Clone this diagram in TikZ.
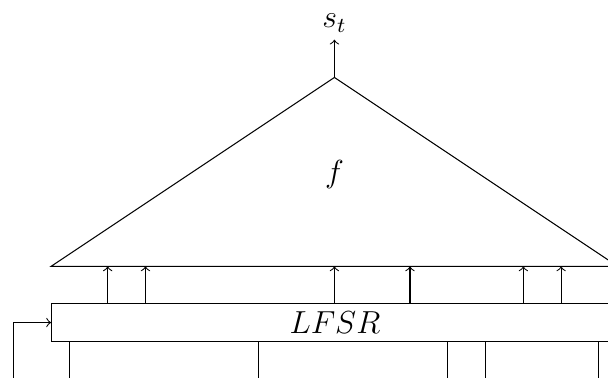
\documentclass[tikz,border=0pt]{standalone}
\begin{document}
\begin{tikzpicture}[x=0.5cm,y=0.5cm,line width=0.4pt,font=\large,
  conn/.style={->},
  regbox/.style={draw,minimum width=7.5cm,minimum height=0.5cm,inner sep=0pt,anchor=south west}]
\useasboundingbox (-1.35,-0.95) rectangle (14.74,9.05);
\clip (-1.35,-0.95) rectangle (14.74,9.05);
\node[regbox] (lfsr) at (0,0) {$LFSR$};
\coordinate (bl) at (0,2);
\coordinate (br) at (15,2);
\coordinate (apex) at (7.5,7);
\draw (bl) -- (apex) -- (br) -- cycle;
\node (f) at (7.5,4.42) {$f$};
\coordinate (out) at (7.5,8);
\draw[conn] (apex) -- (out);
\node[above,inner sep=2.5pt] (st) at (out) {$s_t$};
\foreach \x in {1.5,2.5,7.5,9.5,12.5,13.5}{
  \draw[conn] ([xshift=\x*0.5cm]lfsr.north west) -- ([xshift=\x*0.5cm]bl);
}
\foreach \x in {0.5,5.5,10.5,11.5,14.5}{
  \draw ([xshift=\x*0.5cm]lfsr.south west) -- ++(0,-1.5);
}
\coordinate (fb) at (-1,-1.5);
\draw[conn] (fb) |- (lfsr.west);
\end{tikzpicture}
\end{document}
